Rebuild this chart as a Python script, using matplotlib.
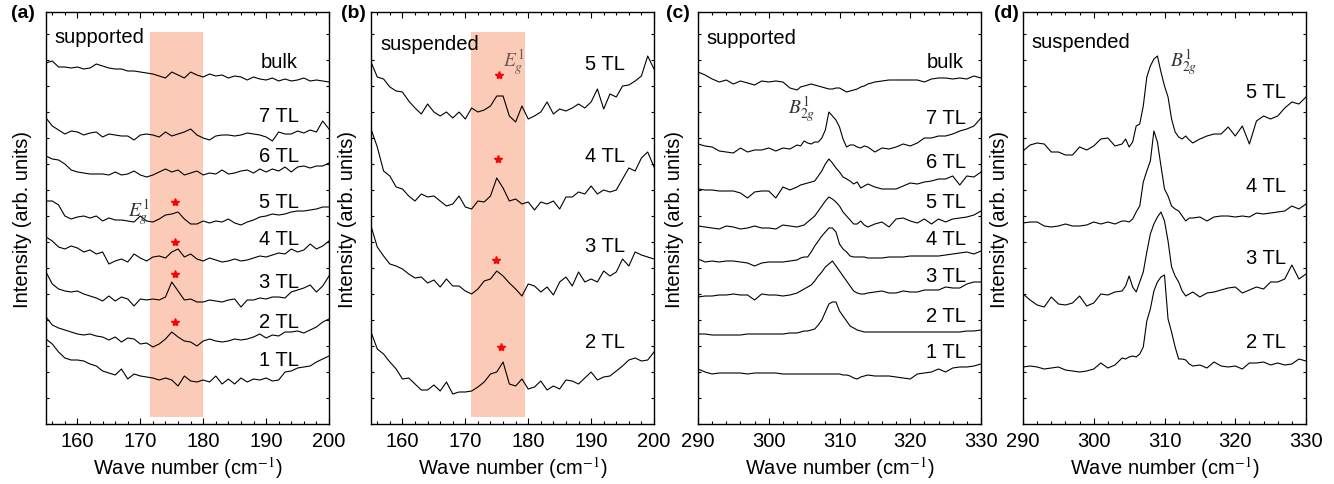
import matplotlib
matplotlib.use("Agg")
import matplotlib.pyplot as plt
from matplotlib.ticker import MultipleLocator

plt.rcParams['font.family'] = ['Liberation Sans', 'DejaVu Sans']
plt.rcParams['mathtext.fontset'] = 'stix'

# wave number grids (cm^-1)
wn_ab = [155, 156, 157, 158, 159, 160, 161, 162, 163, 164,
         165, 166, 167, 168, 169, 170, 171, 172, 173, 174,
         175, 176, 177, 178, 179, 180, 181, 182, 183, 184,
         185, 186, 187, 188, 189, 190, 191, 192, 193, 194,
         195, 196, 197, 198, 199, 200]
wn_cd = [290, 291, 292, 293, 294, 295, 296, 297, 298, 299, 300, 301, 302, 303, 304,
         304.5, 305, 305.5, 306, 306.5, 307, 307.5, 308, 308.5, 309,
         309.5, 310, 310.5, 311, 311.5, 312, 312.5, 313, 313.5, 314,
         315, 316, 317, 318, 319, 320, 321, 322, 323, 324, 325, 326, 327, 328, 329, 330]

# (a) supported, E_g^1 region (stacked, arb. units)
a_bulk = [361, 363, 357, 357, 356, 357, 355, 356, 360, 358,
          356, 355, 355, 353, 353, 352, 351, 350, 348, 346,
          352, 349, 346, 352, 349, 347, 350, 348, 349, 346,
          348, 347, 344, 347, 345, 344, 346, 343, 345, 343,
          344, 346, 343, 344, 343, 342]
a_7 = [306, 298, 294, 290, 293, 292, 289, 291, 292, 287,
       290, 289, 288, 288, 284, 289, 290, 289, 287, 292,
       288, 290, 292, 295, 289, 286, 284, 288, 289, 289,
       288, 289, 291, 290, 289, 287, 283, 292, 290, 290,
       293, 291, 294, 292, 303, 295]
a_6 = [268, 265, 264, 260, 254, 252, 251, 250, 250, 250,
       249, 252, 249, 250, 253, 249, 247, 249, 252, 255,
       252, 254, 249, 251, 253, 249, 251, 250, 254, 250,
       251, 253, 254, 251, 255, 252, 255, 253, 257, 252,
       257, 258, 256, 258, 258, 261]
a_5 = [223, 223, 219, 208, 205, 207, 208, 206, 208, 203,
       206, 204, 204, 203, 202, 208, 203, 202, 205, 209,
       210, 212, 205, 200, 200, 203, 201, 203, 202, 205,
       201, 199, 202, 204, 207, 208, 210, 209, 210, 212,
       213, 213, 214, 215, 217, 217]
a_4 = [187, 183, 177, 175, 178, 176, 172, 174, 170, 172,
       160, 163, 165, 162, 170, 166, 163, 167, 168, 166,
       172, 175, 167, 170, 165, 163, 166, 164, 162, 163,
       165, 163, 164, 166, 168, 167, 169, 171, 170, 175,
       172, 174, 180, 175, 178, 183]
a_3 = [152, 140, 135, 133, 132, 133, 130, 128, 126, 123,
       128, 123, 127, 125, 118, 125, 124, 125, 124, 127,
       142, 133, 124, 125, 122, 122, 124, 123, 122, 124,
       125, 117, 124, 124, 126, 125, 127, 127, 126, 132,
       134, 136, 139, 132, 138, 148]
a_2 = [107, 99, 96, 94, 92, 90, 89, 90, 88, 87,
       84, 87, 82, 86, 85, 80, 81, 77, 80, 85,
       92, 87, 83, 82, 78, 83, 85, 83, 82, 83,
       85, 84, 85, 87, 90, 86, 89, 88, 92, 92,
       93, 91, 94, 97, 102, 105]
a_1 = [85, 80, 72, 66, 64, 64, 63, 60, 58, 53,
       51, 49, 55, 45, 50, 48, 47, 46, 44, 46,
       44, 38, 48, 43, 42, 44, 42, 48, 40, 45,
       40, 46, 42, 45, 44, 46, 43, 44, 52, 53,
       56, 57, 58, 62, 65, 68]

# (b) suspended, E_g^1 region
b_5 = [362, 347, 345, 337, 333, 332, 323, 316, 310, 320,
       312, 308, 312, 306, 312, 305, 316, 312, 314, 318,
       328, 328, 308, 302, 318, 305, 308, 312, 322, 310,
       315, 313, 316, 320, 316, 322, 335, 315, 330, 327,
       338, 339, 343, 348, 368, 355]
b_4 = [295, 277, 253, 248, 237, 235, 228, 223, 230, 227,
       228, 223, 218, 220, 228, 217, 215, 223, 222, 228,
       246, 236, 223, 225, 220, 222, 214, 222, 220, 223,
       215, 227, 227, 232, 230, 238, 230, 234, 232, 234,
       245, 256, 253, 266, 272, 257]
b_3 = [198, 177, 168, 160, 158, 155, 150, 146, 147, 141,
       144, 137, 145, 138, 138, 133, 130, 135, 143, 145,
       153, 148, 141, 135, 128, 140, 138, 132, 137, 129,
       142, 147, 138, 152, 142, 145, 142, 153, 148, 152,
       165, 158, 172, 169, 167, 165]
b_2 = [92, 75, 70, 62, 55, 45, 46, 40, 34, 34,
       39, 33, 42, 30, 32, 32, 33, 37, 42, 50,
       52, 62, 40, 38, 45, 35, 37, 43, 34, 38,
       35, 44, 43, 40, 46, 52, 44, 47, 48, 53,
       58, 64, 66, 63, 64, 72]

# (c) supported, B_2g^1 region
c_bulk = [352, 349, 345, 342, 344, 340, 343, 341, 339, 343, 342, 343, 342, 336, 334,
          337, 338, 339, 340, 339, 338, 337, 336, 335, 335,
          336, 336, 334, 332, 333, 334, 335, 337, 338, 340,
          342, 343, 344, 344, 344, 344, 344, 342, 345, 346, 346, 345, 346, 345, 348, 346]
c_7 = [280, 278, 277, 273, 272, 271, 276, 272, 274, 274, 276, 273, 276, 275, 279,
       278, 283, 281, 280, 282, 282, 286, 294, 312, 308,
       304, 297, 285, 277, 279, 279, 277, 276, 278, 277,
       272, 276, 275, 277, 280, 278, 281, 286, 286, 288, 288, 290, 293, 295, 298, 306]
c_6 = [235, 234, 234, 233, 233, 233, 231, 226, 232, 233, 233, 226, 237, 234, 237,
       239, 240, 241, 242, 243, 248, 253, 260, 265, 261,
       256, 252, 247, 245, 243, 240, 242, 236, 238, 240,
       237, 235, 235, 235, 238, 241, 240, 242, 243, 245, 245, 248, 239, 248, 247, 252]
c_5 = [198, 197, 196, 195, 198, 197, 195, 196, 198, 196, 196, 195, 199, 198, 197,
       198, 199, 202, 205, 208, 213, 218, 223, 227, 225,
       222, 218, 212, 208, 204, 200, 200, 203, 199, 197,
       200, 202, 197, 205, 206, 203, 201, 205, 200, 205, 202, 205, 206, 207, 209, 213]
c_4 = [165, 162, 163, 162, 163, 163, 162, 161, 158, 161, 162, 162, 162, 163, 164,
       166, 167, 167, 172, 178, 183, 188, 192, 196, 196,
       192, 180, 175, 172, 168, 167, 167, 167, 167, 166,
       166, 166, 167, 167, 167, 168, 168, 168, 168, 168, 169, 170, 171, 172, 170, 173]
c_3 = [127, 128, 128, 129, 129, 130, 129, 129, 124, 130, 129, 129, 128, 129, 131,
       133, 135, 137, 139, 143, 148, 152, 157, 160, 163,
       158, 153, 148, 143, 138, 133, 131, 130, 130, 131,
       132, 133, 131, 131, 133, 132, 132, 134, 134, 134, 137, 136, 136, 140, 142, 142]
c_2 = [90, 90, 89, 89, 89, 89, 89, 90, 90, 90, 90, 90, 90, 91, 91,
       92, 93, 93, 94, 95, 99, 104, 112, 120, 122,
       122, 113, 108, 103, 98, 96, 94, 93, 92, 92,
       92, 92, 92, 92, 92, 92, 92, 92, 92, 92, 92, 92, 92, 93, 93, 94]
c_1 = [55, 52, 50, 51, 51, 51, 51, 50, 51, 51, 51, 51, 50, 50, 50,
       50, 50, 50, 50, 50, 50, 50, 50, 50, 50,
       50, 50, 49, 49, 48, 46, 45, 47, 48, 49,
       48, 48, 48, 47, 46, 45, 50, 51, 52, 55, 52, 56, 57, 57, 58, 60]

# (d) suspended, B_2g^1 region
d_5 = [273, 279, 281, 280, 272, 272, 269, 269, 277, 274, 278, 285, 286, 278, 280,
       285, 277, 282, 298, 300, 318, 347, 358, 365, 368,
       352, 338, 327, 305, 292, 287, 285, 288, 284, 281,
       285, 288, 290, 290, 297, 288, 298, 280, 303, 308, 305, 308, 316, 322, 320, 327]
d_4 = [201, 202, 202, 198, 197, 198, 200, 198, 198, 199, 202, 200, 202, 200, 203,
       203, 202, 205, 212, 218, 242, 253, 263, 293, 282,
       258, 235, 228, 218, 215, 213, 208, 203, 206, 206,
       207, 203, 207, 208, 208, 207, 208, 207, 211, 210, 211, 212, 213, 218, 215, 220]
d_3 = [130, 124, 119, 117, 127, 120, 119, 121, 128, 118, 121, 130, 129, 132, 133,
       138, 148, 137, 132, 142, 152, 172, 190, 200, 207,
       212, 203, 183, 157, 148, 142, 133, 128, 130, 132,
       127, 131, 132, 134, 136, 137, 131, 134, 137, 135, 142, 142, 145, 159, 145, 150]
d_2 = [57, 58, 57, 55, 56, 57, 54, 53, 52, 53, 55, 61, 56, 59, 66,
       65, 67, 68, 67, 70, 77, 103, 115, 133, 142,
       147, 149, 105, 92, 77, 65, 65, 64, 60, 58,
       59, 56, 62, 58, 57, 58, 55, 61, 61, 62, 59, 61, 59, 60, 65, 63]

labels_a = ['bulk', '7 TL', '6 TL', '5 TL', '4 TL', '3 TL', '2 TL', '1 TL']
label_y_a = [363, 308, 268, 223, 185, 143, 103, 65]
stars_a_x = [175.5, 175.5, 175.5, 175.5]
stars_a_y = [222, 182, 150, 102]

labels_b = ['5 TL', '4 TL', '3 TL', '2 TL']
label_y_b = [360, 269, 178, 82]
stars_b_x = [175.3, 175.2, 174.8, 175.6]
stars_b_y = [349, 265, 164, 77]

labels_c = ['bulk', '7 TL', '6 TL', '5 TL', '4 TL', '3 TL', '2 TL', '1 TL']
label_y_c = [362, 307, 262, 223, 185, 148, 108, 72]

labels_d = ['5 TL', '4 TL', '3 TL', '2 TL']
label_y_d = [333, 238, 167, 83]

span_color = '#FBCBB7'
fs = 14.5

fig = plt.figure(figsize=(13.34, 4.85), dpi=100)
lefts = [46, 371, 698, 1023]
axs = [fig.add_axes([l / 1334, 60 / 485, 283 / 1334, 412 / 485]) for l in lefts]


def style(ax, xlim, xticks):
    ax.set_xlim(*xlim)
    ax.set_ylim(0, 412)
    ax.set_xticks(xticks)
    ax.xaxis.set_minor_locator(MultipleLocator(2))
    ax.yaxis.set_major_locator(MultipleLocator(26))
    ax.set_yticklabels([])
    ax.tick_params(which='both', direction='in', top=True, right=True,
                   labelsize=fs, pad=5, width=0.8)
    ax.tick_params(which='major', length=4)
    ax.tick_params(which='minor', length=2.5)
    ax.tick_params(axis='y', which='major', length=2.5)
    for sp in ax.spines.values():
        sp.set_linewidth(1.0)
    ax.set_xlabel('Wave number (cm$^{-1}$)', fontsize=fs, labelpad=3)
    ax.set_ylabel('Intensity (arb. units)', fontsize=fs, labelpad=5)


# (a)
ax = axs[0]
ax.axvspan(171.5, 180, ymin=7 / 412, ymax=392 / 412, color=span_color, lw=0)
for y in [a_bulk, a_7, a_6, a_5, a_4, a_3, a_2, a_1]:
    ax.plot(wn_ab, y, color='black', lw=0.8)
ax.plot(stars_a_x, stars_a_y, ls='none', marker='*', color='red', ms=6)
for t, yy in zip(labels_a, label_y_a):
    ax.text(192, yy, t, ha='center', va='center', fontsize=fs)
ax.text(156.4, 388, 'supported', ha='left', va='center', fontsize=fs)
ax.text(169.7, 212, r'$E_g^1$', ha='center', va='center', fontsize=14, color='#333333')
style(ax, (155, 200), [160, 170, 180, 190, 200])

# (b)
ax = axs[1]
ax.axvspan(170.9, 179.5, ymin=7 / 412, ymax=392 / 412, color=span_color, lw=0)
for y in [b_5, b_4, b_3, b_2]:
    ax.plot(wn_ab, y, color='black', lw=0.8)
ax.plot(stars_b_x, stars_b_y, ls='none', marker='*', color='red', ms=6)
for t, yy in zip(labels_b, label_y_b):
    ax.text(192.2, yy, t, ha='center', va='center', fontsize=fs)
ax.text(156.5, 381, 'suspended', ha='left', va='center', fontsize=fs)
ax.text(177.7, 362, r'$E_g^1$', ha='center', va='center', fontsize=14, color='#6b5a55')
style(ax, (155, 200), [160, 170, 180, 190, 200])

# (c)
ax = axs[2]
for y in [c_bulk, c_7, c_6, c_5, c_4, c_3, c_2, c_1]:
    ax.plot(wn_cd, y, color='black', lw=0.8)
for t, yy in zip(labels_c, label_y_c):
    ax.text(325, yy, t, ha='center', va='center', fontsize=fs)
ax.text(291.2, 387, 'supported', ha='left', va='center', fontsize=fs)
ax.text(304.7, 315, r'$B_{2g}^1$', ha='center', va='center', fontsize=14, color='#333333')
style(ax, (290, 330), [290, 300, 310, 320, 330])

# (d)
ax = axs[3]
for y in [d_5, d_4, d_3, d_2]:
    ax.plot(wn_cd, y, color='black', lw=0.8)
for t, yy in zip(labels_d, label_y_d):
    ax.text(324.4, yy, t, ha='center', va='center', fontsize=fs)
ax.text(291.2, 383, 'suspended', ha='left', va='center', fontsize=fs)
ax.text(312.7, 362, r'$B_{2g}^1$', ha='center', va='center', fontsize=14, color='#333333')
style(ax, (290, 330), [290, 300, 310, 320, 330])

# panel letters
for x0, lab in zip([11, 341, 666, 994], ['(a)', '(b)', '(c)', '(d)']):
    fig.text(x0 / 1334, 1 - 13 / 485, lab, ha='left', va='center',
             fontsize=14, fontweight='bold')

fig.savefig('out.png', dpi=100)
